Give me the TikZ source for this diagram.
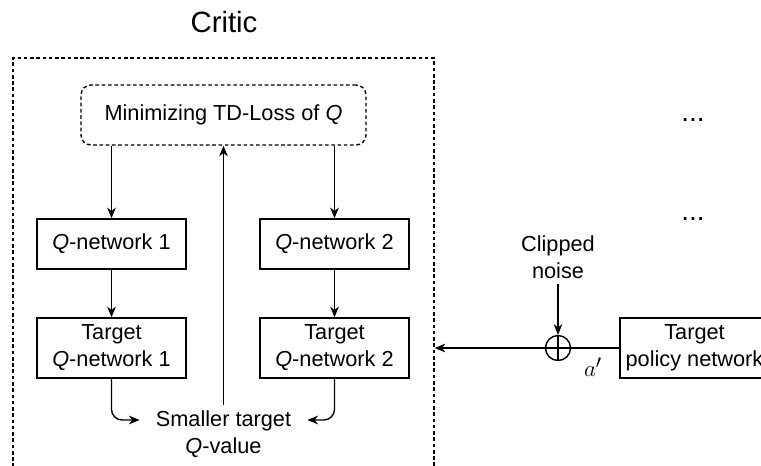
\documentclass[tikz,border=0pt]{standalone}
\usepackage{fontspec}
\setmainfont{Liberation Sans}
\usetikzlibrary{arrows.meta,calc}
\newcommand\fsmain{\fontsize{16.3}{20.3}\selectfont}
\tikzset{
  ln/.style={line width=1.05pt},
  box/.style={draw, ln, minimum width=111.75pt, inner sep=0pt, align=center, font=\fsmain},
  txt/.style={align=center, font=\fsmain, inner sep=0pt},
  arr/.style={ln, -{Stealth[length=8pt,width=6.5pt,inset=2.5pt]}},
  dash1/.style={dash pattern=on 2.7pt off 2pt},
}
\begin{document}
\begin{tikzpicture}[x=0.75pt,y=-0.75pt]
\useasboundingbox (0,0) rectangle (761,465);
\clip (0,0) rectangle (761,465);
% title
\node[font=\fontsize{22}{26}\selectfont, anchor=base, inner sep=0pt] (title) at (224,32) {Critic};
% critic container
\node[draw, ln, dash1, minimum width=315.75pt, minimum height=324pt, inner sep=0pt] (critbox) at (223.5,274) {};
% loss box
\node[draw, ln, dash1, rounded corners=7.5pt, minimum width=213.75pt, minimum height=45pt, inner sep=0pt, font=\fsmain] (loss) at (223.5,115) {Minimizing TD-Loss of \textit{Q}};
% Q networks
\node[box, minimum height=37.5pt] (q1) at (111.5,244) {\textit{Q}-network 1};
\node[box, minimum height=37.5pt] (q2) at (334.5,244) {\textit{Q}-network 2};
\node[box, minimum height=45pt] (t1) at (111.5,348) {Target\\\textit{Q}-network 1};
\node[box, minimum height=45pt] (t2) at (334.5,348) {Target\\\textit{Q}-network 2};
% smaller target
\node[txt, inner xsep=12pt, inner ysep=3.75pt, anchor=north] (small) at (223.5,405) {Smaller target\\\textit{Q}-value};
\coordinate (sml) at ($(small.north west)+(0,15)$);
\coordinate (smr) at ($(small.north east)+(0,15)$);
% arrows
\draw[arr] (loss.south -| q1) -- (q1.north);
\draw[arr] (loss.south -| q2) -- (q2.north);
\draw[arr] (q1.south) -- (t1.north);
\draw[arr] (q2.south) -- (t2.north);
\draw[arr, rounded corners=8pt] (t1.south) |- (sml);
\draw[arr, rounded corners=8pt] (t2.south) |- (smr);
\draw[arr] (small.north) -- (small.north |- loss.south);
% right side
\node[font=\fontsize{21}{24}\selectfont, anchor=base, inner sep=0pt] (dots1) at (693,121) {...};
\node[font=\fontsize{21}{24}\selectfont, anchor=base, inner sep=0pt] (dots2) at (693,220) {...};
\node[txt, inner ysep=4pt] (noise) at (558,257) {Clipped\\noise};
\node[draw, ln, circle, minimum size=18.75pt, inner sep=0pt] (plus) at (558,348) {};
\draw[ln] (plus.north) -- (plus.south);
\draw[ln] (plus.west) -- (plus.east);
\node[box, minimum height=45pt] (pol) at (694.5,348) {Target\\policy network};
\node[font=\fontsize{19}{22}\selectfont, inner sep=0pt] (aprime) at (593,367) {$a'$};
\draw[arr] (noise.south) -- (plus.north);
\draw[ln] (pol.west) -- (plus.east);
\draw[arr] (plus.west) -- (plus.west -| critbox.east);
\end{tikzpicture}
\end{document}
